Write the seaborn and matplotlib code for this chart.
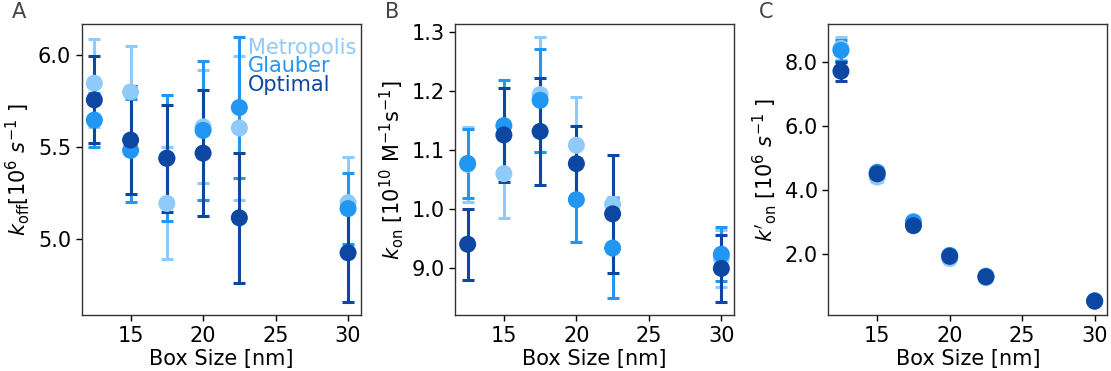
import numpy as np
import pandas as pd
import matplotlib
matplotlib.use("Agg")
import matplotlib.pyplot as plt
import seaborn as sns

# ---------------- data ----------------
box_size = [12.5, 15, 17.5, 20, 22.5, 30]
series = ["Metropolis", "Glauber", "Optimal"]
colors = ["#90CAF9", "#2196F3", "#0D47A1"]

# Panel A: k_off [10^6 s^-1]
koff_metropolis = [5.845, 5.798, 5.195, 5.609, 5.603, 5.199]
koff_metropolis_err = [0.238, 0.249, 0.303, 0.306, 0.390, 0.249]
koff_glauber = [5.646, 5.482, 5.440, 5.590, 5.714, 5.167]
koff_glauber_err = [0.144, 0.280, 0.340, 0.374, 0.380, 0.194]
koff_optimal = [5.755, 5.538, 5.439, 5.467, 5.117, 4.928]
koff_optimal_err = [0.235, 0.290, 0.290, 0.341, 0.350, 0.267]

# Panel B: k_on [10^10 M^-1 s^-1]
kon_metropolis = [1.076, 1.0605, 1.1944, 1.1085, 1.0085, 0.917]
kon_metropolis_err = [0.064, 0.075, 0.097, 0.082, 0.013, 0.0486]
kon_glauber = [1.0777, 1.1418, 1.1847, 1.0164, 0.9345, 0.924]
kon_glauber_err = [0.0585, 0.077, 0.087, 0.071, 0.085, 0.046]
kon_optimal = [0.941, 1.126, 1.132, 1.0774, 0.9924, 0.900]
kon_optimal_err = [0.060, 0.080, 0.090, 0.063, 0.0997, 0.057]

# Panel C: k'_on [10^6 s^-1]
kon2_metropolis = [8.42, 4.40, 2.95, 1.85, 1.25, 0.52]
kon2_metropolis_err = [0.35, 0.15, 0.10, 0.08, 0.06, 0.03]
kon2_glauber = [8.36, 4.55, 3.00, 1.95, 1.30, 0.53]
kon2_glauber_err = [0.33, 0.15, 0.10, 0.08, 0.06, 0.03]
kon2_optimal = [7.71, 4.50, 2.88, 1.92, 1.28, 0.52]
kon2_optimal_err = [0.30, 0.15, 0.10, 0.08, 0.06, 0.03]

a_yticks = [5.0, 5.5, 6.0]
a_yticklabels = ["5.0", "5.5", "6.0"]
b_yticks = [0.9, 1.0, 1.1, 1.2, 1.3]
b_yticklabels = ["9.0", "1.0", "1.1", "1.2", "1.3"]
c_yticks = [2.0, 4.0, 6.0, 8.0]
c_yticklabels = ["2.0", "4.0", "6.0", "8.0"]
x_ticks = [15, 20, 25, 30]

panels = [
    ("A", [koff_metropolis, koff_glauber, koff_optimal],
     [koff_metropolis_err, koff_glauber_err, koff_optimal_err],
     r"$k_{\rm off}[10^6\ s^{-1}\ ]$", a_yticks, a_yticklabels),
    ("B", [kon_metropolis, kon_glauber, kon_optimal],
     [kon_metropolis_err, kon_glauber_err, kon_optimal_err],
     r"$k_{\rm on}$ [10$^{10}$ M$^{-1}$s$^{-1}$]", b_yticks, b_yticklabels),
    ("C", [kon2_metropolis, kon2_glauber, kon2_optimal],
     [kon2_metropolis_err, kon2_glauber_err, kon2_optimal_err],
     r"$k'_{\rm on}$ [10$^6$ $s^{-1}$ ]", c_yticks, c_yticklabels),
]

# ---------------- style ----------------
sns.set_style("ticks")
plt.rcParams["font.family"] = ["DejaVu Sans"]
plt.rcParams["mathtext.fontset"] = "dejavusans"

fig, axes = plt.subplots(1, 3, figsize=(11.11, 3.71), dpi=100)
fig.subplots_adjust(left=0.0735, right=0.9967, top=0.9353, bottom=0.150, wspace=0.0)

lefts = [0.0735, 0.4095, 0.7455]
width = 0.2512

for ax, left, (label, vals, errs, ylabel, yt, ytl) in zip(axes, lefts, panels):
    ax.set_position([left, 0.150, width, 0.9353 - 0.150])
    rows = []
    for s, v, e in zip(series, vals, errs):
        for x, vv, ee in zip(box_size, v, e):
            rows.append({"box": x, "value": vv, "err": ee, "series": s})
    df = pd.DataFrame(rows)
    # error bars first
    for s, c in zip(series, colors):
        d = df[df["series"] == s]
        ax.errorbar(d["box"], d["value"], yerr=d["err"], fmt="none",
                    ecolor=c, elinewidth=2.2, capsize=4, capthick=2.2, zorder=2)
    # markers on top
    sns.scatterplot(data=df, x="box", y="value", hue="series",
                    hue_order=series, palette=colors, s=150,
                    edgecolor="none", linewidth=0, legend=False,
                    ax=ax, zorder=3)
    ax.set_xticks(x_ticks)
    ax.set_xticklabels([str(t) for t in x_ticks])
    ax.set_yticks(yt)
    ax.set_yticklabels(ytl)
    ax.tick_params(labelsize=15, colors="black", length=4, width=1)
    ax.set_xlabel("Box Size [nm]", fontsize=15, labelpad=2, color="black")
    ax.set_ylabel(ylabel, fontsize=15, labelpad=4, color="black")
    for sp in ax.spines.values():
        sp.set_visible(True)
        sp.set_color("#333333")
        sp.set_linewidth(1.0)
    ax.text(-0.25, 1.04, label, transform=ax.transAxes, fontsize=15,
            color="#444444", ha="left", va="center")

# legend text in panel A
ax = axes[0]
for s, c, yy in zip(series, colors, [0.918, 0.856, 0.791]):
    ax.text(0.596, yy, s, transform=ax.transAxes, color=c, fontsize=15,
            ha="left", va="center")

fig.savefig("out.png", dpi=100)
